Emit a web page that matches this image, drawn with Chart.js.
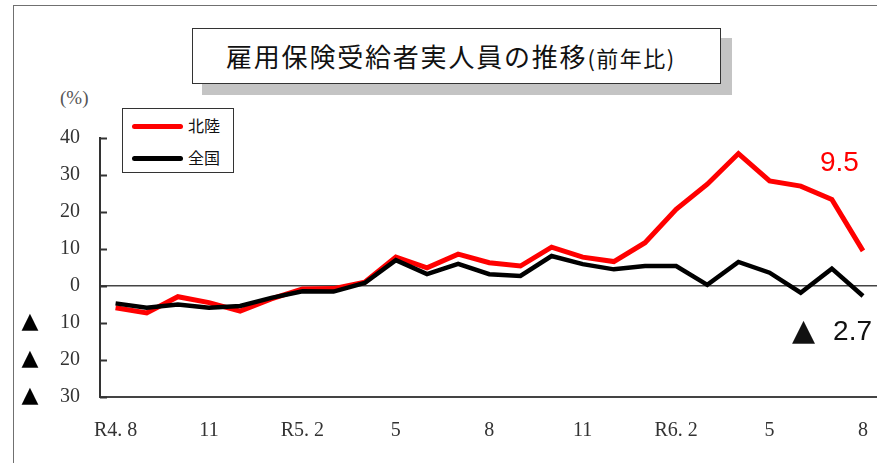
<!DOCTYPE html>
<html>
<head>
<meta charset="utf-8">
<script src="https://cdn.jsdelivr.net/npm/chart.js@4.4.1/dist/chart.umd.min.js"></script>
<style>
  html, body { margin: 0; padding: 0; background: #fff; }
  body { width: 877px; height: 463px; overflow: hidden; position: relative; }
  #marco { position: absolute; left: 13px; top: 5px; width: 1000px; height: 1000px; border: 1.5px solid #707070; box-sizing: border-box; }
  #sombra { position: absolute; left: 202px; top: 38px; width: 530px; height: 57px; background: #c4c4c4; }
  #titulo { position: absolute; left: 192px; top: 28px; width: 529px; height: 56px; background: #fff; border: 1.5px solid #333; box-sizing: border-box;
            font-family: "Noto Sans CJK JP", sans-serif; font-size: 26px; color: #111; line-height: 53px; padding-left: 33px; letter-spacing: 1.8px; white-space: nowrap; }
  #titulo small { font-size: 22px; letter-spacing: 1.5px; }
  #unidad { position: absolute; left: 60px; top: 87px; font-family: "Liberation Serif", serif; font-size: 19px; color: #555; }
  #leyenda { position: absolute; left: 122px; top: 108px; width: 112px; height: 65px; border: 1.5px solid #333; box-sizing: border-box; background: #fff;
             font-family: "Noto Sans CJK JP", sans-serif; font-size: 16px; color: #111; }
  .item { position: absolute; left: 9px; height: 20px; line-height: 20px; white-space: nowrap; }
  .item i { display: inline-block; width: 51px; height: 5px; border-radius: 3px; vertical-align: middle; margin-right: 5px; margin-top: -3px; }
  #grafico { position: absolute; left: 0; top: 0; }
  .nota { position: absolute; font-family: "Liberation Sans", Arial, sans-serif; font-size: 28px; white-space: nowrap; }
  .nota .tri { font-family: "DejaVu Sans", sans-serif; font-size: 30px; margin-right: 18px; }
</style>
</head>
<body>
<div id="marco"></div>
<div id="sombra"></div>
<div id="titulo">雇用保険受給者実人員の推移<small>(前年比)</small></div>
<div id="unidad">(%)</div>
<canvas id="grafico" width="882" height="463"></canvas>
<div id="leyenda"></div>
<div class="nota" id="notaHokuriku" style="left:820px; top:146px; color:#ff0000;"></div>
<div class="nota" id="notaZenkoku" style="left:792px; top:312px; color:#111;"></div>

<script>
// meses R4.8 .. R6.8
const meses = ['R4.8','R4.9','R4.10','R4.11','R4.12','R5.1','R5.2','R5.3','R5.4','R5.5','R5.6','R5.7','R5.8',
               'R5.9','R5.10','R5.11','R5.12','R6.1','R6.2','R6.3','R6.4','R6.5','R6.6','R6.7','R6.8'];
const etiquetasX = ['R4. 8','11','R5. 2','5','8','11','R6. 2','5','8'];   // cada 3 meses
const valoresY = [40, 30, 20, 10, 0, -10, -20, -30];

const series = ['北陸', '全国'];
const colores = ['#ff0000', '#000000'];
const hokuriku = [-5.9, -7.3, -2.9, -4.5, -6.8, -3.5, -0.8, -0.7, 1.0, 7.8, 4.9, 8.6, 6.3,
                  5.4, 10.5, 7.8, 6.6, 11.7, 20.7, 27.5, 35.8, 28.4, 27.0, 23.4, 9.5];
const zenkoku = [-4.7, -5.9, -5.0, -5.9, -5.4, -3.2, -1.4, -1.5, 0.8, 7.0, 3.2, 6.0, 3.2,
                 2.7, 8.1, 5.9, 4.5, 5.4, 5.4, 0.3, 6.5, 3.6, -1.8, 4.7, -2.7];

// leyenda
let htmlLeyenda = '';
series.forEach((s, i) => {
    htmlLeyenda += `<div class="item" style="top:${6 + i * 32}px"><i style="background:${colores[i]}"></i>${s}</div>`;
});
document.getElementById('leyenda').innerHTML = htmlLeyenda;

// valores finales (▲ = negativo)
const ultH = hokuriku[hokuriku.length - 1];
const ultZ = zenkoku[zenkoku.length - 1];
document.getElementById('notaHokuriku').innerHTML = (ultH < 0 ? '<span class="tri">▲</span>' : '') + Math.abs(ultH);
document.getElementById('notaZenkoku').innerHTML = (ultZ < 0 ? '<span class="tri">▲</span>' : '') + Math.abs(ultZ);

// marcas del eje Y hacia dentro + ▲ de los negativos
const marcasInternas = {
    id: 'marcasInternas',
    afterDraw(chart) {
        const ctx = chart.ctx;
        const y = chart.scales.y;
        ctx.save();
        ctx.strokeStyle = '#333';
        ctx.lineWidth = 2;
        valoresY.forEach(v => {
            const py = Math.round(y.getPixelForValue(v)) + 0.5;
            ctx.beginPath();
            ctx.moveTo(y.right, py);
            ctx.lineTo(y.right + 7, py);
            ctx.stroke();
        });
        ctx.fillStyle = '#000';
        ctx.font = '22px "DejaVu Sans"';
        ctx.textAlign = 'center';
        ctx.textBaseline = 'middle';
        valoresY.filter(v => v < 0).forEach(v => {
            ctx.fillText('▲', 30, y.getPixelForValue(v) - 1);
        });
        ctx.restore();
    }
};

const ctx = document.getElementById('grafico').getContext('2d');

new Chart(ctx, {
    type: 'line',
    plugins: [marcasInternas],
    data: {
        labels: meses,
        datasets: [{
            label: series[0],
            data: hokuriku,
            borderColor: colores[0],
            borderWidth: 5,
            pointRadius: 0,
            tension: 0,
            order: 1
        }, {
            label: series[1],
            data: zenkoku,
            borderColor: colores[1],
            borderWidth: 4.5,
            pointRadius: 0,
            tension: 0,
            order: 0
        }]
    },
    options: {
        responsive: false,
        animation: false,
        devicePixelRatio: 1,
        layout: { padding: { top: 138, left: 0, right: 0, bottom: 0 } },
        plugins: {
            legend: { display: false },
            tooltip: { enabled: false },
            title: { display: false }
        },
        scales: {
            x: {
                offset: true,
                grid: { display: false },
                border: { display: true, color: '#444', width: 2 },
                ticks: {
                    autoSkip: false,
                    maxRotation: 0,
                    padding: 14,
                    color: '#333',
                    font: { family: 'Liberation Serif', size: 20 },
                    callback: function (val, i) {
                        return i % 3 === 0 ? etiquetasX[i / 3] : '';
                    }
                },
                afterFit: s => { s.height = 66; }
            },
            y: {
                min: -30,
                max: 40,
                afterBuildTicks: s => { s.ticks = valoresY.map(v => ({ value: v })); },
                grid: {
                    drawTicks: false,
                    lineWidth: 1.5,
                    color: c => (c.tick && c.tick.value === 0) ? '#444' : 'rgba(0,0,0,0)'
                },
                border: { display: true, color: '#333', width: 2 },
                ticks: {
                    padding: 20,
                    color: '#333',
                    font: { family: 'Liberation Serif', size: 20 },
                    callback: v => Math.abs(v)
                },
                afterFit: s => { s.width = 100; }
            }
        }
    }
});
</script>
</body>
</html>
